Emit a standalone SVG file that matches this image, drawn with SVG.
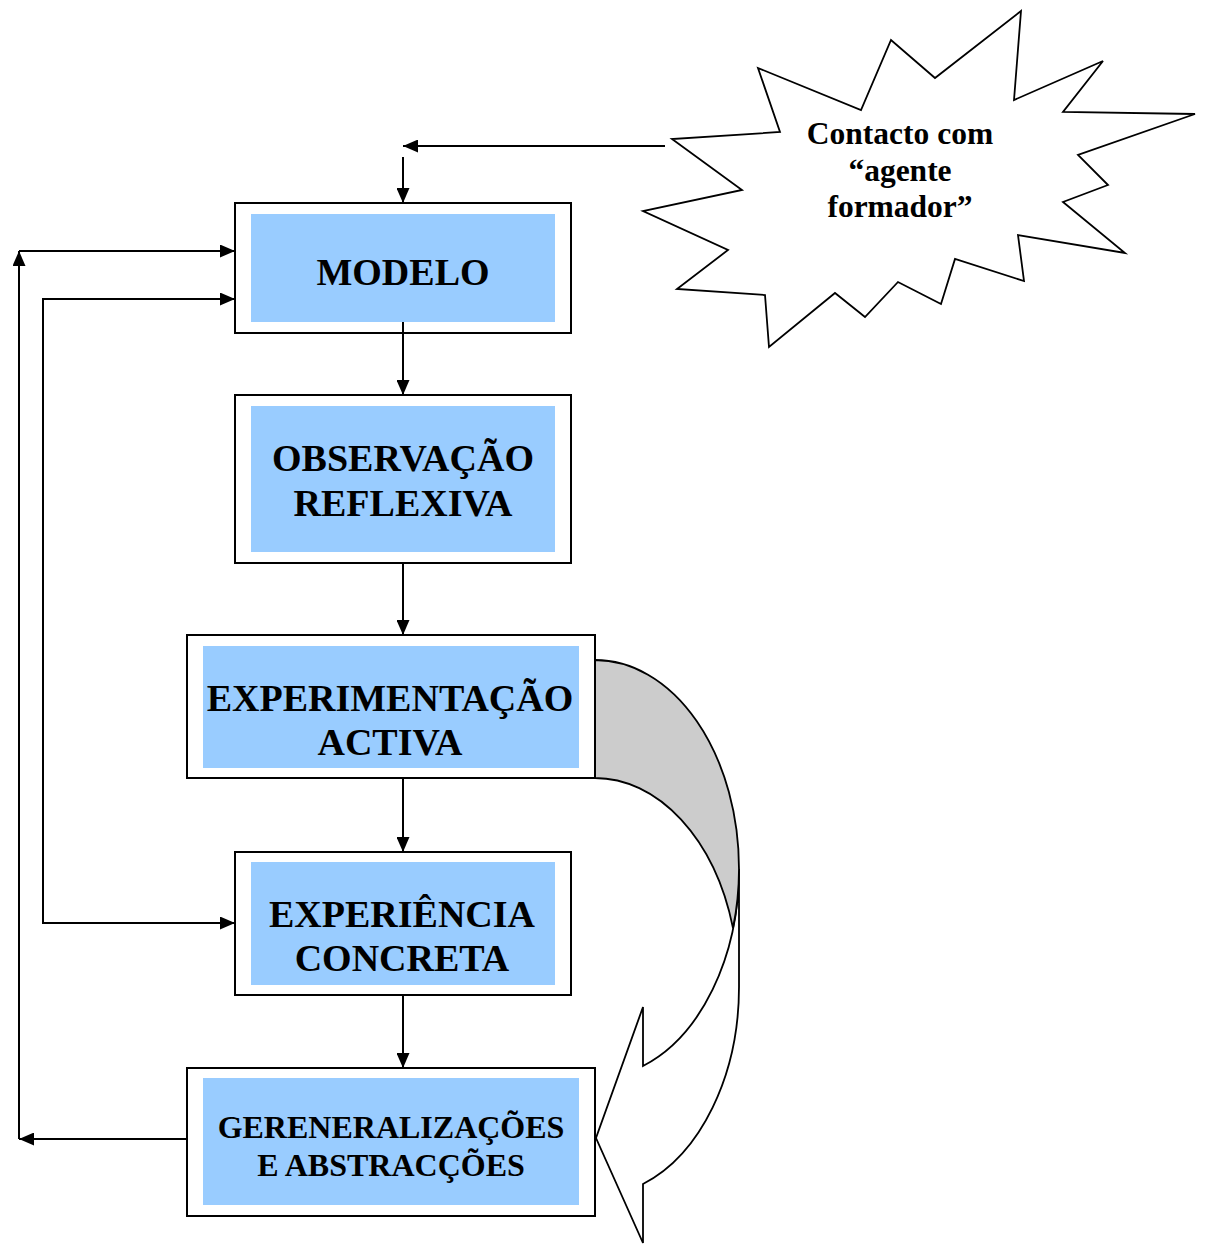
<svg xmlns="http://www.w3.org/2000/svg" width="1205" height="1245" viewBox="0 0 1205 1245">
<style>
.outer{fill:#fff;stroke:#000;stroke-width:2}
.inner{fill:#99ccff;stroke:none}
.t{font-family:"Liberation Serif","Times New Roman",serif;font-weight:bold;fill:#000;text-anchor:middle}
.c{fill:none;stroke:#000;stroke-width:2}
.sh{stroke:#000;stroke-width:1.8;stroke-linejoin:miter}
</style>
<defs>
<marker id="ah" viewBox="0 0 15 13" refX="15" refY="6.5" markerWidth="15" markerHeight="13" markerUnits="userSpaceOnUse" orient="auto">
<path d="M0,0 L15,6.5 L0,13 Z" fill="#000"/>
</marker>
</defs>
<rect width="1205" height="1245" fill="#fff"/>

<g id="star">
<polygon class="sh" fill="#fff" points="758,68 861,110 891,40 935,78 1021,11 1014,100 1103,61 1063,112 1195,114 1078,155 1108,185 1063,202 1125,253 1018,235 1024,281 955,259 941,304 898,282 865,317 835,293 769,347 765,295 677,289 728,250 643,211 742,190 672,139 780,132"/>
<text class="t" x="900" y="144" font-size="31.5">Contacto com</text>
<text class="t" x="900" y="181" font-size="31.5">“agente</text>
<text class="t" x="900" y="217" font-size="31.5">formador”</text>
</g>

<g id="curved-arrow">
<path class="sh" fill="#fff" d="M739,869 L739,987 A144,209 0 0 1 643,1184 L643,1243 L596,1138 L643,1007 L643,1066 A144,209 0 0 0 739,869 Z"/>
<path class="sh" fill="#cccccc" d="M595,660 A144,209 0 0 1 739,869 A144,209 0 0 1 733,928 A144,209 0 0 0 595,778 Z"/>
</g>

<g id="modelo">
<rect class="outer" x="235" y="203" width="336" height="130"/>
<rect class="inner" x="251" y="214" width="304" height="108"/>
<text class="t" x="403" y="285" font-size="38">MODELO</text>
</g>

<g id="observacao">
<rect class="outer" x="235" y="395" width="336" height="168"/>
<rect class="inner" x="251" y="406" width="304" height="146"/>
<text class="t" x="403" y="471" font-size="38">OBSERVAÇÃO</text>
<text class="t" x="403" y="516" font-size="38">REFLEXIVA</text>
</g>

<g id="experimentacao">
<rect class="outer" x="187" y="635" width="408" height="143"/>
<rect class="inner" x="203" y="646" width="376" height="122"/>
<text class="t" x="390" y="711" font-size="38">EXPERIMENTAÇÃO</text>
<text class="t" x="390" y="755" font-size="38">ACTIVA</text>
</g>

<g id="experiencia">
<rect class="outer" x="235" y="852" width="336" height="143"/>
<rect class="inner" x="251" y="862" width="304" height="123"/>
<text class="t" x="402" y="927" font-size="38">EXPERIÊNCIA</text>
<text class="t" x="402" y="971" font-size="38">CONCRETA</text>
</g>

<g id="generalizacoes">
<rect class="outer" x="187" y="1068" width="408" height="148"/>
<rect class="inner" x="203" y="1078" width="376" height="127"/>
<text class="t" x="391" y="1138" font-size="32">GERENERALIZAÇÕES</text>
<text class="t" x="391" y="1176" font-size="32">E ABSTRACÇÕES</text>
</g>

<g id="connectors">
<line class="c" x1="665" y1="146" x2="403" y2="146" marker-end="url(#ah)"/>
<line class="c" x1="403" y1="157" x2="403" y2="203" marker-end="url(#ah)"/>
<line class="c" x1="403" y1="322" x2="403" y2="395" marker-end="url(#ah)"/>
<line class="c" x1="403" y1="563" x2="403" y2="635" marker-end="url(#ah)"/>
<line class="c" x1="403" y1="778" x2="403" y2="852" marker-end="url(#ah)"/>
<line class="c" x1="403" y1="995" x2="403" y2="1068" marker-end="url(#ah)"/>
<line class="c" x1="187" y1="1139" x2="19" y2="1139" marker-end="url(#ah)"/>
<line class="c" x1="19" y1="1139" x2="19" y2="251" marker-end="url(#ah)"/>
<line class="c" x1="19" y1="251" x2="235" y2="251" marker-end="url(#ah)"/>
<polyline class="c" points="235,923 43,923 43,299 235,299"/>
<line class="c" x1="220" y1="923" x2="235" y2="923" marker-end="url(#ah)"/>
<line class="c" x1="220" y1="299" x2="235" y2="299" marker-end="url(#ah)"/>
</g>
</svg>
